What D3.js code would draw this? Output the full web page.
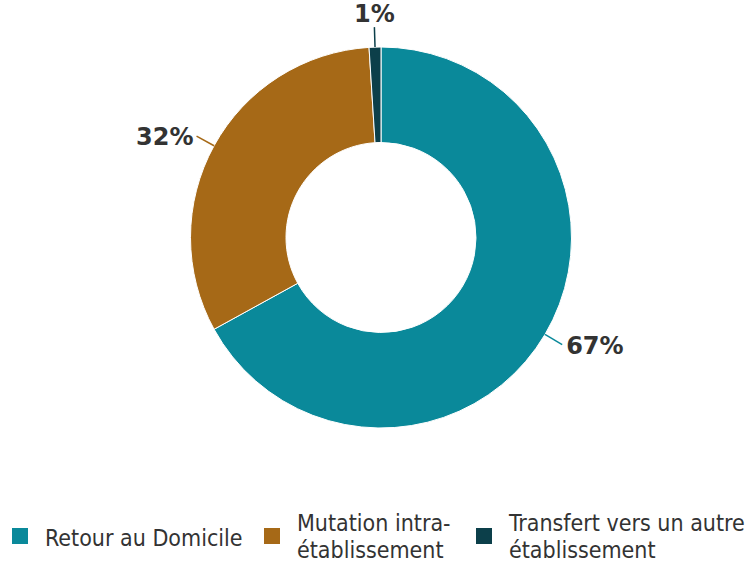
<!DOCTYPE html>
<html>
<head>
<meta charset="utf-8">
<script src="https://cdn.jsdelivr.net/npm/d3@7"></script>
<style>
  body { margin: 0; background: #fff; }
  svg text { font-family: "DejaVu Sans", Verdana, sans-serif; }
</style>
</head>
<body>
<div id="chart"></div>
<script>
const categories = ["Retour au Domicile", "Mutation intra-établissement", "Transfert vers un autre établissement"];
const legendLines = [["Retour au Domicile"], ["Mutation intra-", "établissement"], ["Transfert vers un autre", "établissement"]];
const values = [67, 32, 1];
const valueLabels = ["67%", "32%", "1%"];
const colors = ["#0a899a", "#a66917", "#0c3f4a"];

const width = 750, height = 564;
const center = { x: 381, y: 237.5 };
const outerR = 190.5, innerR = 95;

const svg = d3.select("#chart").append("svg")
    .attr("width", width)
    .attr("height", height);

const data = categories.map((c, i) => ({ cat: c, value: values[i], label: valueLabels[i], color: colors[i] }));

const pie = d3.pie().value(d => d.value).sort(null);
const arc = d3.arc().innerRadius(innerR).outerRadius(outerR);
const arcs = pie(data);

const g = svg.append("g")
    .attr("transform", "translate(" + center.x + "," + center.y + ")");

g.selectAll("path")
    .data(arcs)
    .enter().append("path")
    .attr("d", arc)
    .attr("fill", d => d.data.color)
    .attr("stroke", "#fff")
    .attr("stroke-width", 1);

// leader lines + labels
const leader = [
    { len: 20, anchor: "start", dx: 4, dy: 9 },
    { len: 20, anchor: "end", dx: -3, dy: 9 },
    { len: 20, anchor: "middle", dx: 0, dy: -5 }
];

arcs.forEach((d, i) => {
    const mid = (d.startAngle + d.endAngle) / 2;
    const sx = Math.sin(mid), sy = -Math.cos(mid);
    const x1 = sx * outerR, y1 = sy * outerR;
    const x2 = sx * (outerR + leader[i].len), y2 = sy * (outerR + leader[i].len);
    g.append("line")
        .attr("x1", x1).attr("y1", y1)
        .attr("x2", x2).attr("y2", y2)
        .attr("stroke", d.data.color)
        .attr("stroke-width", 1.5);
    g.append("text")
        .attr("x", x2 + leader[i].dx)
        .attr("y", y2 + leader[i].dy)
        .attr("text-anchor", leader[i].anchor)
        .style("font-size", "24px")
        .style("font-weight", "bold")
        .style("fill", "#333")
        .text(d.data.label);
});

// legend
const legendX = [12, 264, 476];
const legend = svg.append("g");
data.forEach((d, i) => {
    const lg = legend.append("g").attr("transform", "translate(" + legendX[i] + ",0)");
    lg.append("rect")
        .attr("x", 0).attr("y", 528)
        .attr("width", 16).attr("height", 16)
        .attr("fill", d.color);
    const lines = legendLines[i];
    const t = lg.append("text")
        .style("font-family", "'DejaVu Sans Condensed', 'DejaVu Sans', sans-serif")
        .style("font-size", "23px")
        .style("fill", "#333");
    lines.forEach((ln, j) => {
        t.append("tspan")
            .attr("x", 33)
            .attr("y", lines.length === 1 ? 546 : 531 + j * 27)
            .text(ln);
    });
});
</script>
</body>
</html>
